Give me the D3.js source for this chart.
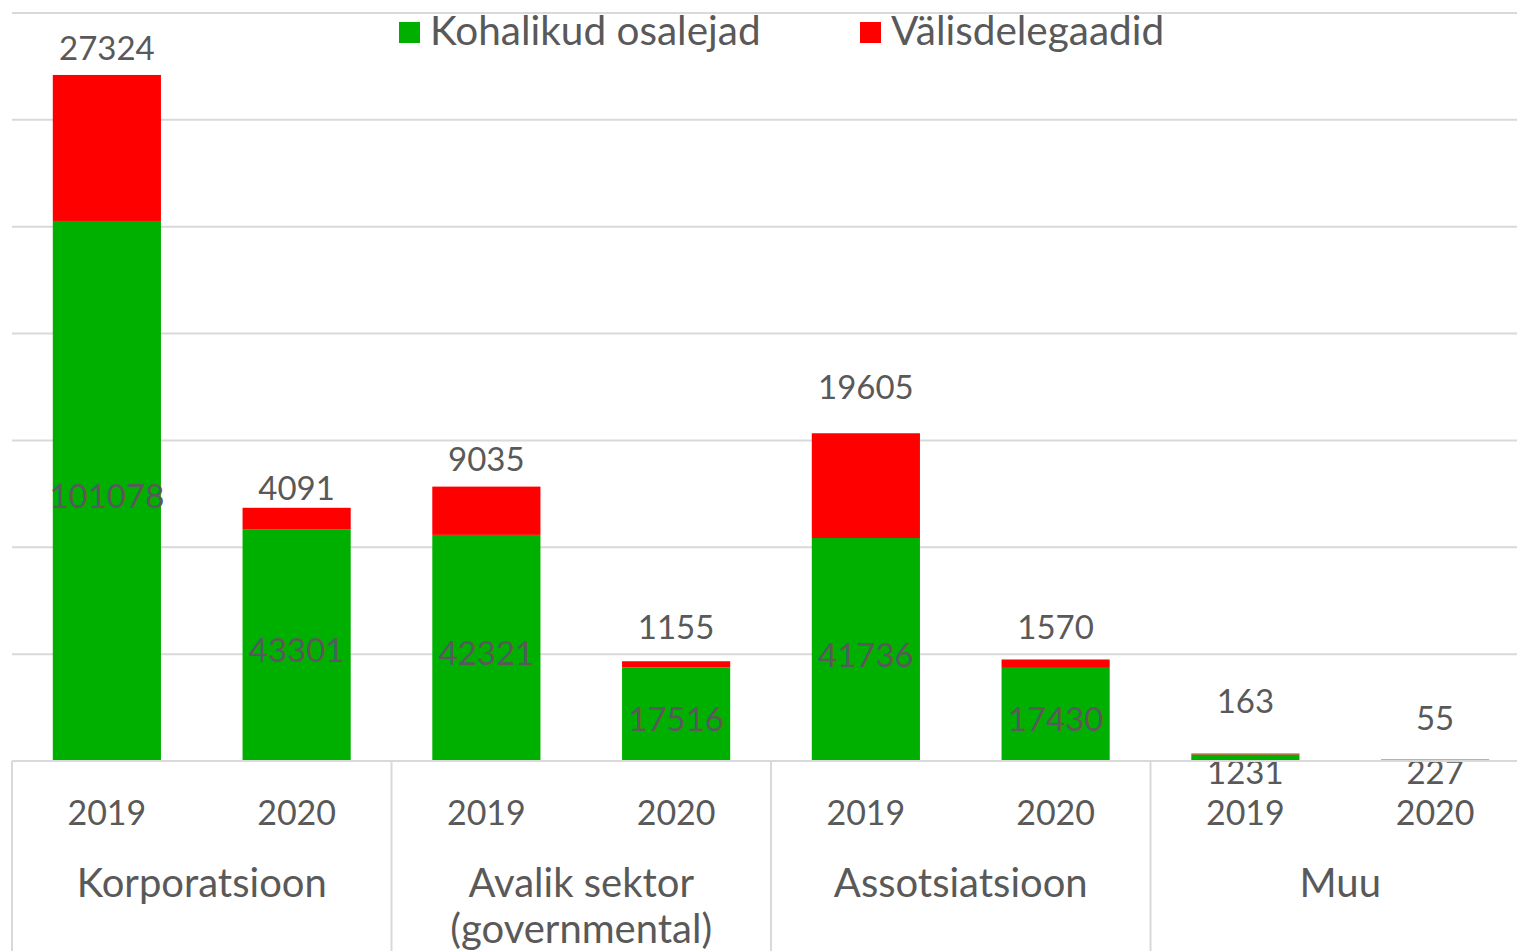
<!DOCTYPE html>
<html>
<head>
<meta charset="utf-8">
<script src="https://cdn.jsdelivr.net/npm/d3@7"></script>
<style>
  body { margin: 0; background: #fff; }
  svg { display: block; }
  .lbl { fill: #595959; font-family: Lato, sans-serif; }
</style>
</head>
<body>
<div id="chart"></div>
<script>

// data
let groups = ['Korporatsioon', 'Avalik sektor (governmental)', 'Assotsiatsioon', 'Muu'],
    years = ['2019', '2020'],
    localVals = [101078, 43301, 42321, 17516, 41736, 17430, 1231, 227],
    foreignVals = [27324, 4091, 9035, 1155, 19605, 1570, 163, 55],
    seriesNames = ['Kohalikud osalejad', 'Välisdelegaadid'],
    yTicks = [0, 20000, 40000, 60000, 80000, 100000, 120000, 140000];

// manual label nudges (labels were dragged by hand in the original)
let redLabelShift = [-28, -21, -29, -35, -47, -33, -54, -42];

let width = 1517,
    height = 951,
    colors = ['#00b000', '#ff0000'];

let margin = { top: 13, left: 12, right: -13, bottom: 190 };

let svg = d3.select('#chart').append('svg')
    .attr('width', width)
    .attr('height', height);

let x0 = d3.scaleBand()
    .domain(groups)
    .range([margin.left, width - margin.right])
    .padding(0);

let x1 = d3.scaleBand()
    .domain(years)
    .range([0, x0.bandwidth()])
    .paddingInner(0.43)
    .paddingOuter(0.215);

let y = d3.scaleLinear()
    .domain([0, 140000])
    .range([height - margin.bottom, margin.top]);

// build rows
let rows = [];
groups.forEach(function(g, gi) {
    years.forEach(function(yr, yi) {
        let i = gi * 2 + yi;
        rows.push({ group: g, year: yr, local: localVals[i], foreign: foreignVals[i], idx: i });
    })
})

let stacked = d3.stack().keys(['local', 'foreign'])(rows);

// gridlines
svg.append('g').selectAll('line')
    .data(yTicks)
    .enter()
    .append('line')
    .attr('x1', margin.left)
    .attr('x2', width)
    .attr('y1', function(d) { return y(d); })
    .attr('y2', function(d) { return y(d); })
    .style('stroke', '#d9d9d9')
    .style('stroke-width', 2);

// bars
let layer = svg.append('g').selectAll('g')
    .data(stacked)
    .enter()
    .append('g')
    .style('fill', function(d, i) { return colors[i]; });

layer.selectAll('rect')
    .data(function(d) { return d; })
    .enter()
    .append('rect')
    .attr('x', function(d) { return x0(d.data.group) + x1(d.data.year); })
    .attr('width', x1.bandwidth())
    .attr('y', function(d) { return y(d[1]); })
    .attr('height', function(d) { return y(d[0]) - y(d[1]); });

let barCenter = function(d) { return x0(d.data.group) + x1(d.data.year) + x1.bandwidth() / 2; };

// green labels, middle of segment
svg.append('g').selectAll('text')
    .data(stacked[0])
    .enter()
    .append('text')
    .classed('lbl', true)
    .attr('text-anchor', 'middle')
    .attr('dominant-baseline', 'central')
    .style('font-size', '33px')
    .attr('x', barCenter)
    .attr('y', function(d) {
        let mid = (y(d[0]) + y(d[1])) / 2;
        if (y(d[0]) - y(d[1]) < 30) { return y(0) + 10; }
        return mid + 4;
    })
    .text(function(d) { return d.data.local; });

// red labels, above the bar
svg.append('g').selectAll('text')
    .data(stacked[1])
    .enter()
    .append('text')
    .classed('lbl', true)
    .attr('text-anchor', 'middle')
    .attr('dominant-baseline', 'central')
    .style('font-size', '33px')
    .attr('x', barCenter)
    .attr('y', function(d) { return y(d[1]) + redLabelShift[d.data.idx]; })
    .text(function(d) { return d.data.foreign; });

// category axis
let axisG = svg.append('g');
let base = y(0);

axisG.append('line')
    .attr('x1', margin.left).attr('x2', width)
    .attr('y1', base).attr('y2', base)
    .style('stroke', '#d9d9d9').style('stroke-width', 2);

axisG.selectAll('.sep')
    .data(groups)
    .enter()
    .append('line')
    .classed('sep', true)
    .attr('x1', function(d) { return x0(d); })
    .attr('x2', function(d) { return x0(d); })
    .attr('y1', base)
    .attr('y2', height)
    .style('stroke', '#d9d9d9').style('stroke-width', 2);

axisG.selectAll('.yr')
    .data(rows)
    .enter()
    .append('text')
    .classed('lbl yr', true)
    .attr('text-anchor', 'middle')
    .style('font-size', '34px')
    .attr('x', function(d) { return x0(d.group) + x1(d.year) + x1.bandwidth() / 2; })
    .attr('y', base + 64)
    .text(function(d) { return d.year; });

let grpText = axisG.selectAll('.grp')
    .data(groups)
    .enter()
    .append('text')
    .classed('lbl grp', true)
    .attr('text-anchor', 'middle')
    .style('font-size', '40px')
    .attr('x', function(d) { return x0(d) + x0.bandwidth() / 2; })
    .attr('y', base + 136);

grpText.each(function(d) {
    let parts = d.indexOf('(') > -1 ? [d.slice(0, d.indexOf('(')).trim(), d.slice(d.indexOf('('))] : [d];
    let t = d3.select(this);
    parts.forEach(function(p, i) {
        t.append('tspan')
            .attr('x', x0(d) + x0.bandwidth() / 2)
            .attr('dy', i == 0 ? 0 : 46)
            .text(p);
    })
})

// legend
let legendX = [399, 860];
let legend = svg.append('g').selectAll('g')
    .data(seriesNames)
    .enter()
    .append('g')
    .attr('transform', function(d, i) { return 'translate(' + legendX[i] + ',0)'; });

legend.append('rect')
    .attr('x', 0).attr('y', 22)
    .attr('width', 21).attr('height', 21)
    .style('fill', function(d, i) { return colors[i]; });

legend.append('text')
    .classed('lbl', true)
    .attr('x', 31)
    .attr('y', 45)
    .style('font-size', '40.5px')
    .text(function(d) { return d; });

</script>
</body>
</html>
